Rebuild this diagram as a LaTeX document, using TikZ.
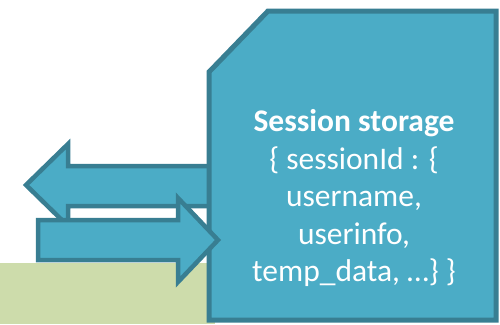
\documentclass[tikz,border=0pt]{standalone}
\usepackage{fontspec}
\setmainfont{Carlito}
\definecolor{storefill}{RGB}{75,172,198}
\definecolor{storeline}{RGB}{56,126,146}
\definecolor{groundgreen}{RGB}{205,220,171}
\begin{document}
\begin{tikzpicture}[x=1pt,y=-1pt,
  block/.style={fill=storefill,draw=storeline,line width=4.5pt,line join=miter},
  label/.style={text=white,align=center,font=\fontsize{31.5}{37.5}\selectfont,inner sep=0pt}]
\useasboundingbox (0,0) rectangle (500,324);
% green ground strip
\fill[groundgreen] (0,263) rectangle (215,324);
% arrow pointing left, out of the storage
\draw[block] (210,166) -- (68,166) -- (68,144) -- (26,185) -- (68,226) -- (68,206) -- (210,206);
% storage block with a clipped corner
\draw[block,line width=5pt] (209,72) -- (268,11) -- (496,11) -- (496,320) -- (209,320) -- cycle;
% arrow pointing right, into the storage
\draw[block] (38,220) -- (178,220) -- (178,198) -- (218,240) -- (178,282) -- (178,260) -- (38,260) -- cycle;
\node[label] (store) at (354,198) {\textbf{Session storage}\\\{ sessionId : \{\\username,\\userinfo,\\temp\_data, …\} \}};
\end{tikzpicture}
\end{document}
